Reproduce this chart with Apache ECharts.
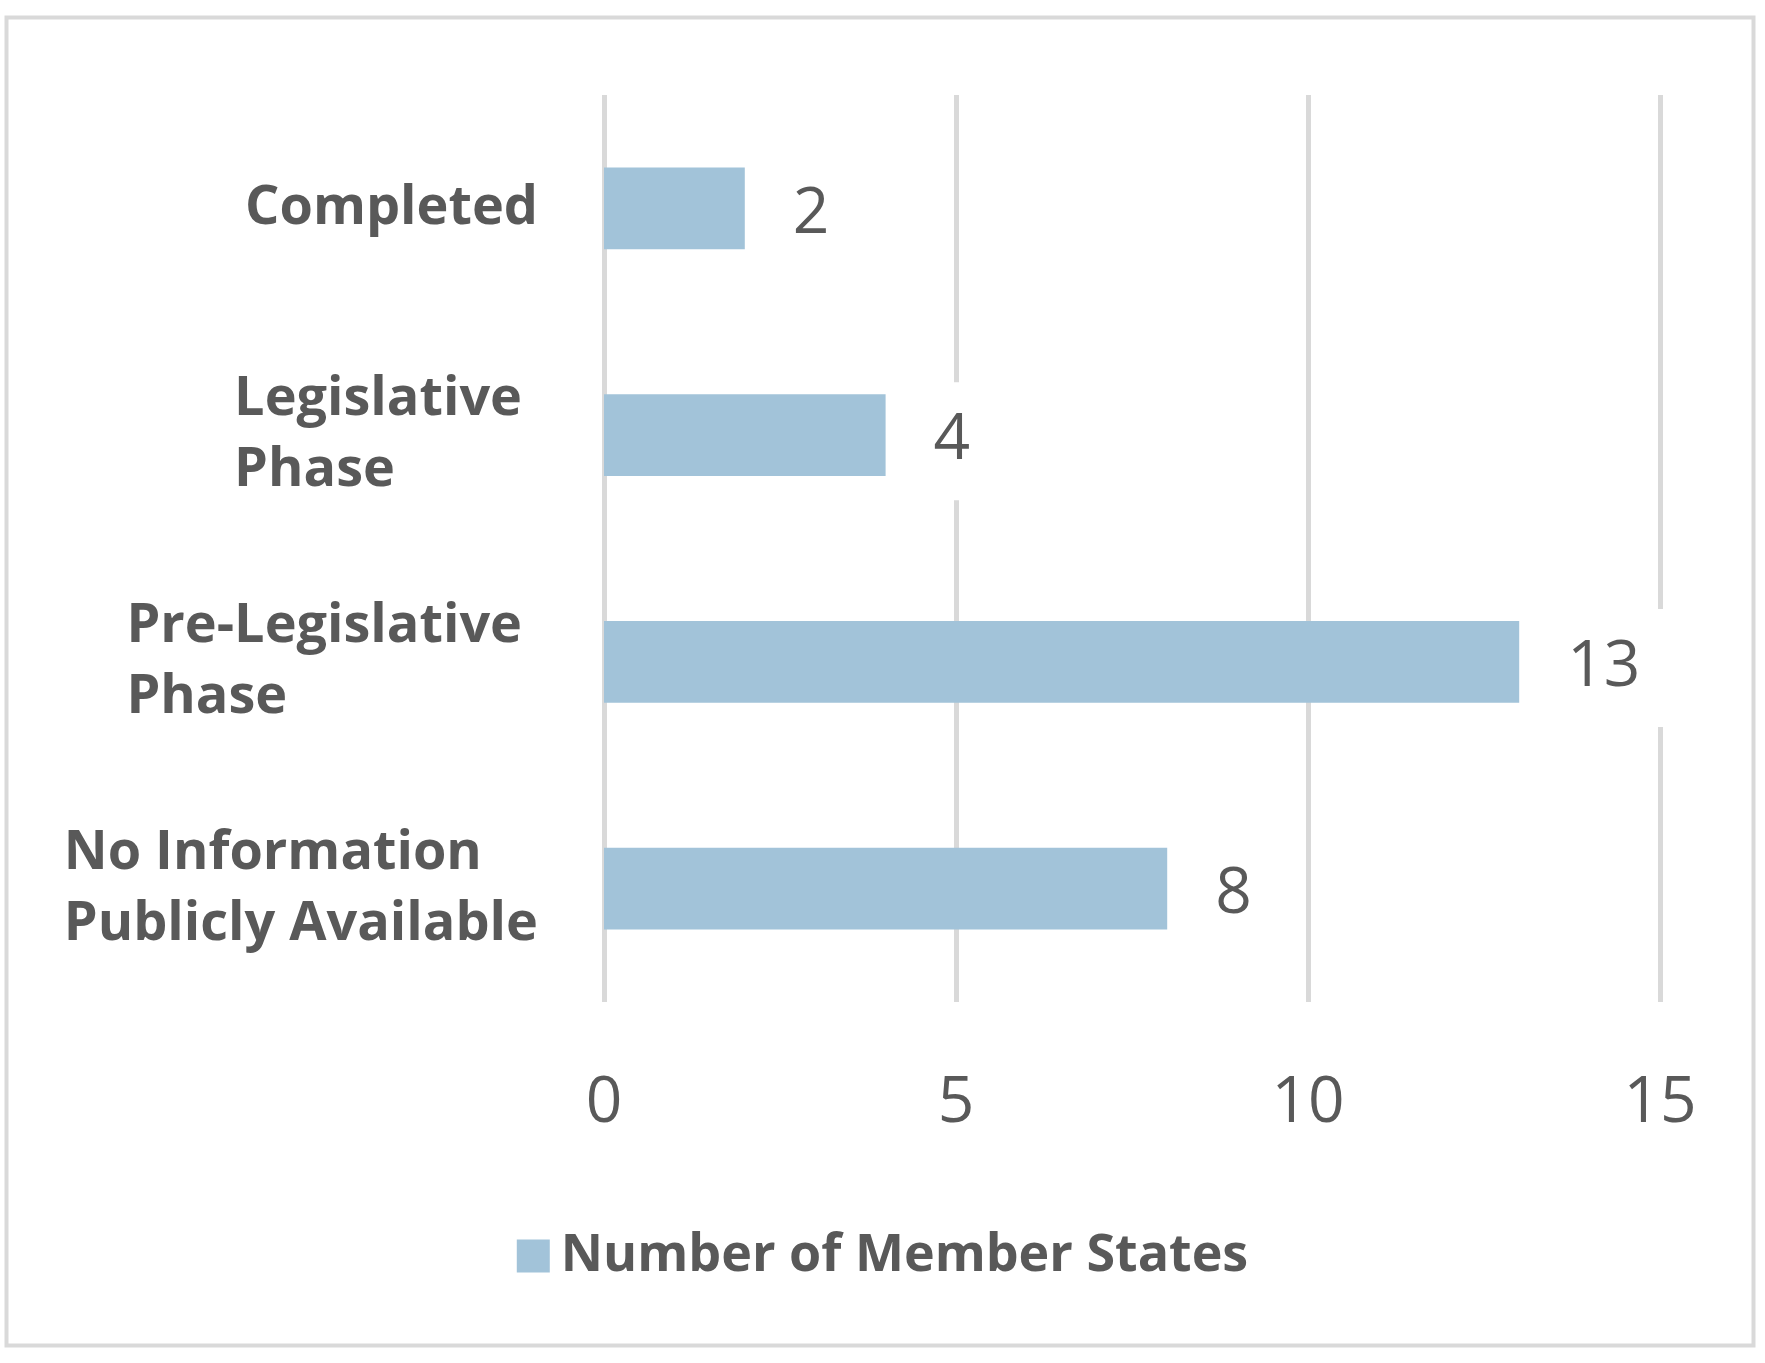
<!DOCTYPE html>
<html>
<head>
<meta charset="utf-8">
<script src="https://cdn.jsdelivr.net/npm/echarts@6/dist/echarts.min.js"></script>
<style>
html,body{margin:0;padding:0;background:#fff;}
#c{width:1765px;height:1363px;}
</style>
</head>
<body>
<div id="c"></div>
<script>
const categories = ["No Information\nPublicly Available", "Pre-Legislative\nPhase", "Legislative\nPhase", "Completed"];
const values = [8, 13, 4, 2];
const seriesName = "Number of Member States";
const xTicks = [0, 5, 10, 15];

const TXT = '#595959';
const chart = echarts.init(document.getElementById('c'), null, {renderer: 'canvas'});
chart.setOption({
  backgroundColor: '#ffffff',
  animation: false,
  graphic: [{
    type: 'rect', left: 4, top: 15,
    shape: {width: 1747, height: 1328},
    style: {fill: 'none', stroke: '#d9d9d9', lineWidth: 4},
    silent: true
  }],
  grid: {left: 604, right: 105, top: 95, bottom: 361, containLabel: false},
  legend: {
    data: [seriesName],
    left: 'center', top: 1216,
    icon: 'rect', itemWidth: 33, itemHeight: 33, itemGap: 10,
    textStyle: {fontFamily: 'Open Sans', fontWeight: 'bold', fontSize: 52, color: TXT, lineHeight: 70, padding: [0,0,0,6]}
  },
  xAxis: {
    type: 'value', min: xTicks[0], max: xTicks[xTicks.length-1], interval: 5,
    axisLine: {show: false}, axisTick: {show: false},
    splitLine: {show: true, lineStyle: {color: '#d9d9d9', width: 5}},
    axisLabel: {fontFamily: 'Open Sans', fontSize: 64, color: TXT, margin: 70}
  },
  yAxis: {
    type: 'category', data: categories,
    axisLine: {show: false}, axisTick: {show: false},
    axisLabel: {
      margin: 66, align: 'right',
      formatter: function (v) {
        const lines = v.split('\n');
        const style = (v.indexOf('Legislative') >= 0) ? 'b' : 'a';
        return lines.map(s => '{' + style + '|' + s + '}').join('\n');
      },
      rich: {
        a: {align: 'left', fontFamily: 'Open Sans', fontWeight: 'bold', fontSize: 54, color: TXT, lineHeight: 71},
        b: {align: 'left', fontFamily: 'Open Sans', fontWeight: 'bold', fontSize: 54, color: TXT, lineHeight: 71, padding: [0, 16, 0, 0]}
      }
    }
  },
  series: [{
    name: seriesName, type: 'bar', data: values,
    barCategoryGap: '64%',
    itemStyle: {color: '#a2c3d9'},
    label: {
      show: true, position: 'right', distance: 24, offset: [0, 6],
      fontFamily: 'Open Sans', fontSize: 64, color: TXT,
      backgroundColor: '#ffffff', padding: [33, 24, 19, 24], lineHeight: 66
    },
    z: 3
  }]
});
</script>
</body>
</html>
